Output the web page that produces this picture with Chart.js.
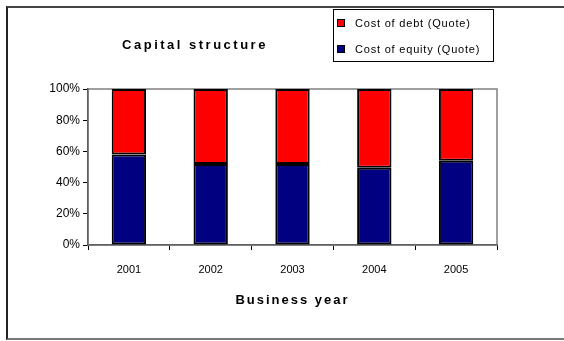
<!DOCTYPE html>
<html>
<head>
<meta charset="utf-8">
<script src="https://cdn.jsdelivr.net/npm/chart.js@4/dist/chart.umd.min.js"></script>
<style>
  html, body { margin: 0; padding: 0; background: #fff; }
  #wrap { position: relative; width: 564px; height: 341px; overflow: hidden; }
  #frame {
    position: absolute; left: 6px; top: 6px; width: 600px; height: 330px;
    border-left: 2px solid #222; border-top: 2px solid #444; border-bottom: 2px solid #777;
  }
  canvas { position: absolute; left: 0; top: 0; }
</style>
</head>
<body>
<div id="wrap">
  <div id="frame"></div>
  <canvas id="myChart" width="564" height="341"></canvas>
</div>
<script>
// chart data
const years = ['2001', '2002', '2003', '2004', '2005'];
const equityShare = [58, 52, 52, 49.5, 54];
const debtShare = [42, 48, 48, 50.5, 46];
const yTicks = [0, 20, 40, 60, 80, 100];

const chartTitle = 'Capital structure';
const xTitle = 'Business year';

// frame, title, custom legend
const decorations = {
    id: 'decorations',
    beforeDatasetsDraw(chart) {
        const { ctx, chartArea } = chart;
        ctx.save();
        ctx.strokeStyle = '#808080';
        ctx.lineWidth = 1.5;
        ctx.strokeRect(chartArea.left, chartArea.top, chartArea.right - chartArea.left, chartArea.bottom - chartArea.top);
        ctx.restore();
    },
    afterDraw(chart) {
        const { ctx, chartArea } = chart;
        ctx.save();
        ctx.fillStyle = '#000';
        ctx.textAlign = 'center';
        ctx.textBaseline = 'middle';
        ctx.font = 'bold 13px "Liberation Sans", Arial, sans-serif';
        ctx.letterSpacing = '2.5px';
        ctx.fillText(chartTitle, 195, 45);
        ctx.letterSpacing = '2px';
        ctx.fillText(xTitle, (chartArea.left + chartArea.right) / 2, 300);

        // legend box
        ctx.letterSpacing = '0.8px';
        ctx.strokeStyle = '#000';
        ctx.lineWidth = 1;
        ctx.strokeRect(333.5, 9.5, 160, 52);
        ctx.font = '11px "Liberation Sans", Arial, sans-serif';
        ctx.textAlign = 'left';
        const items = chart.data.datasets.slice().reverse();
        items.forEach((ds, i) => {
            const y = 23 + i * 26;
            ctx.fillStyle = ds.backgroundColor;
            ctx.fillRect(337, y - 4, 8, 8);
            ctx.strokeRect(337.5, y - 3.5, 7, 7);
            ctx.fillStyle = '#000';
            ctx.fillText(ds.label, 355, y + 1);
        });
        ctx.restore();
    }
};

const ctx = document.getElementById('myChart');
new Chart(ctx, {
    type: 'bar',
    data: {
        labels: years,
        datasets: [{
            label: 'Cost of equity (Quote)',
            data: equityShare,
            backgroundColor: '#000080',
            borderColor: '#000',
            borderWidth: 2,
            borderSkipped: false,
            barPercentage: 0.42,
            categoryPercentage: 1
        }, {
            label: 'Cost of debt (Quote)',
            data: debtShare,
            backgroundColor: '#FF0000',
            borderColor: '#000',
            borderWidth: 2,
            borderSkipped: false,
            barPercentage: 0.42,
            categoryPercentage: 1
        }]
    },
    options: {
        responsive: false,
        animation: false,
        layout: { padding: { left: 0, right: 67, top: 89, bottom: 0 } },
        plugins: {
            legend: { display: false },
            title: { display: false },
            tooltip: { enabled: false }
        },
        scales: {
            x: {
                stacked: true,
                afterFit: scale => { scale.height = 96; },
                grid: { drawOnChartArea: false, tickLength: 5, color: '#000', offset: true },
                border: { color: '#000', width: 1.5 },
                ticks: {
                    color: '#000',
                    padding: 13,
                    font: { family: '"Liberation Sans", Arial, sans-serif', size: 11 }
                }
            },
            y: {
                stacked: true,
                min: 0,
                max: 100,
                afterFit: scale => { scale.width = 88; },
                afterBuildTicks: scale => { scale.ticks = yTicks.map(v => ({ value: v })); },
                grid: { drawOnChartArea: false, tickLength: 5, color: '#000' },
                border: { color: '#000', width: 1.5 },
                ticks: {
                    color: '#000',
                    padding: 3,
                    callback: v => v + '%',
                    font: { family: '"Liberation Sans", Arial, sans-serif', size: 12 }
                }
            }
        }
    },
    plugins: [decorations]
});
</script>
</body>
</html>
